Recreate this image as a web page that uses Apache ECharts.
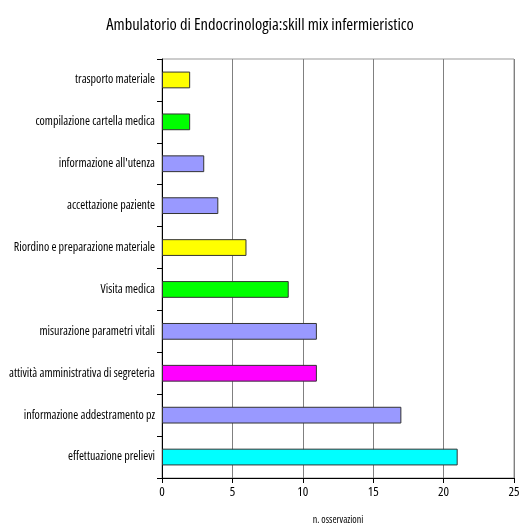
<!DOCTYPE html>
<html>
<head>
<meta charset="utf-8">
<script src="https://cdn.jsdelivr.net/npm/echarts@6/dist/echarts.min.js"></script>
<style>
  html, body { margin: 0; padding: 0; background: #fff; }
  #chart { width: 520px; height: 524px; }
</style>
</head>
<body>
<div id="chart"></div>
<script>
// Activities, listed bottom to top as they appear on the category axis
const categories = [
  "effettuazione prelievi",
  "informazione addestramento pz",
  "attività amministrativa di segreteria",
  "misurazione parametri vitali",
  "Visita medica",
  "Riordino e preparazione materiale",
  "accettazione paziente",
  "informazione all'utenza",
  "compilazione cartella medica",
  "trasporto materiale"
];
const observations = [21, 17, 11, 11, 9, 6, 4, 3, 2, 2];
const barColors = ["#00FFFF", "#9999FF", "#FF00FF", "#9999FF", "#00FF00", "#FFFF00", "#9999FF", "#9999FF", "#00FF00", "#FFFF00"];
const xTicks = [0, 5, 10, 15, 20, 25];

// Narrow sans: Open Sans at its condensed width
const font = "'Open Sans', 'Liberation Sans', sans-serif";
const narrow = 'condensed';

const chart = echarts.init(document.getElementById('chart'));
chart.setOption({
  animation: false,
  backgroundColor: '#ffffff',
  title: {
    text: 'Ambulatorio di Endocrinologia:skill mix infermieristico',
    left: 'center',
    top: 12,
    textStyle: { fontFamily: font, fontStyle: narrow, fontSize: 16.5, fontWeight: 500, color: '#000' }
  },
  grid: {
    left: 162, right: 6, top: 59, bottom: 46,
    outerBoundsMode: 'none', containLabel: false,
    show: true, borderColor: '#999', borderWidth: 1, backgroundColor: 'transparent'
  },
  xAxis: {
    type: 'value',
    min: xTicks[0],
    max: xTicks[xTicks.length - 1],
    interval: 5,
    name: 'n. osservazioni',
    nameLocation: 'middle',
    nameGap: 37,
    nameTextStyle: { fontFamily: font, fontStyle: narrow, fontSize: 10, fontWeight: 500, color: '#000' },
    axisLine: { show: true, lineStyle: { color: '#000', width: 1 } },
    axisTick: { show: true, length: 5, lineStyle: { color: '#000' } },
    axisLabel: { fontFamily: font, fontStyle: narrow, fontSize: 13, fontWeight: 500, color: '#000', margin: 8 },
    splitLine: { show: true, lineStyle: { color: '#808080', width: 1 } }
  },
  yAxis: {
    type: 'category',
    data: categories,
    axisLine: { show: true, lineStyle: { color: '#000', width: 1 } },
    axisTick: { show: true, length: 5, lineStyle: { color: '#000' } },
    axisLabel: { fontFamily: font, fontStyle: narrow, fontSize: 12, fontWeight: 500, color: '#000', margin: 7 }
  },
  series: [{
    type: 'bar',
    barWidth: '40%',
    data: observations.map((v, i) => ({
      value: v,
      itemStyle: { color: barColors[i], borderColor: '#333', borderWidth: 1 }
    }))
  }]
});
</script>
</body>
</html>
